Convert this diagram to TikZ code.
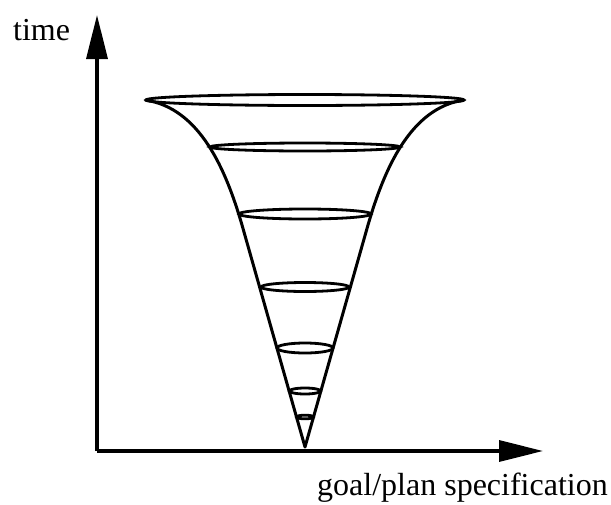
\documentclass[tikz,border=0pt]{standalone}
\usepackage{fontspec}
\setmainfont{Liberation Serif}
\usetikzlibrary{arrows.meta,positioning}
\tikzset{
  axis/.style  ={line width=3.4pt,-{Triangle[length=44pt,width=21pt]}},
  wall/.style  ={line width=3pt,line join=round},
  ring/.style  ={line width=2.8pt},
  lbl/.style   ={font=\fontsize{32}{38}\selectfont,inner sep=0pt},
}
\begin{document}
\begin{tikzpicture}[x=1pt,y=-1pt]
  \useasboundingbox (0,0) rectangle (611,504);
  % axes
  \coordinate (origin) at (97,451);
  \coordinate (ytip) at (97,15);
  \coordinate (xtip) at (543,451);
  \draw[axis] (origin) -- (ytip);
  \draw[axis] (origin) -- (xtip);
  \node[lbl,anchor=base west] (timelbl) at (13,40) {time};
  \node[lbl,anchor=base west] (speclbl) at (317,495) {goal/plan specification};
  % funnel walls
  \coordinate (tip) at (305,447);
  \draw[wall] (145,100) .. controls (200,108) and (226,170) .. (242,225)
    -- (tip) -- (368,225) .. controls (384,170) and (410,108) .. (464,100);
  % rings
  \foreach \y/\rx/\ry in {100/159/5.5,147/95/4,214/66/5,287/44/4.5,348/28/5,391/15.5/3,417/8.5/1.8}{
    \draw[ring] (305,\y) ellipse [x radius=\rx,y radius=\ry];}
\end{tikzpicture}
\end{document}
